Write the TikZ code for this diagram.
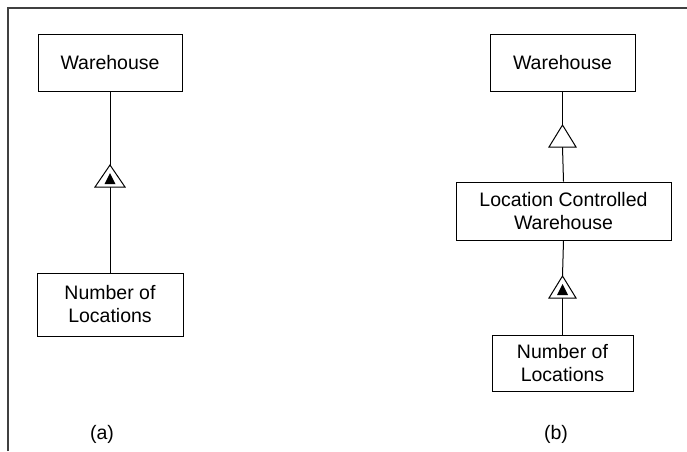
\documentclass[tikz,border=0pt]{standalone}
\usepackage{fontspec}
\setmainfont{Liberation Sans}
\begin{document}
\begin{tikzpicture}[x=1pt,y=-1pt,
  box/.style={draw, line width=1pt, align=center, inner sep=0pt,
    font=\fontsize{19.5}{23}\selectfont},
  caption/.style={font=\fontsize{19.5}{23}\selectfont, inner sep=0pt},
  link/.style={line width=1pt},
  tri/.style={line width=1pt, fill=white, line join=miter}]
\useasboundingbox (0,0) rectangle (687,451);

% open frame along the top and left edges
\draw[line width=1.2pt, black!75] (8,451) -- (8,8) -- (687,8);

% ---- (a) ----
\node[box, minimum width=144, minimum height=57] (wa) at (110,62.5) {Warehouse};
\node[box, minimum width=146, minimum height=63] (na) at (110,304.5) {Number of\\Locations};
\coordinate (ta) at (110,165);
\coordinate (tab) at (110,187);
\draw[link] (wa.south) -- (ta);
\draw[link] (tab) -- (na.north);
\draw[tri] (ta) -- (95,187) -- (125,187) -- cycle;
\fill (110,173) -- (104.5,184) -- (115.5,184) -- cycle;
\node[caption] (capa) at (102,434) {(a)};

% ---- (b) ----
\node[box, minimum width=145, minimum height=57] (wb) at (562.5,62.5) {Warehouse};
\node[box, minimum width=215, minimum height=58] (lb) at (563.5,211) {Location Controlled\\Warehouse};
\node[box, minimum width=141, minimum height=56] (nb) at (562.5,363) {Number of\\Locations};
\coordinate (tb) at (562.5,125);
\coordinate (tbb) at (562.5,147);
\coordinate (tc) at (562.5,276);
\coordinate (tcb) at (562.5,298);
\draw[link] (wb.south) -- (tb);
\draw[link] (tbb) -- (lb.north);
\draw[link] (lb.south) -- (tc);
\draw[link] (tcb) -- (nb.north);
\draw[tri] (tb) -- (549,147) -- (576,147) -- cycle;
\draw[tri] (tc) -- (549,298) -- (576,298) -- cycle;
\fill (562.5,284) -- (557,295) -- (568,295) -- cycle;
\node[caption] (capb) at (556,434) {(b)};
\end{tikzpicture}
\end{document}
